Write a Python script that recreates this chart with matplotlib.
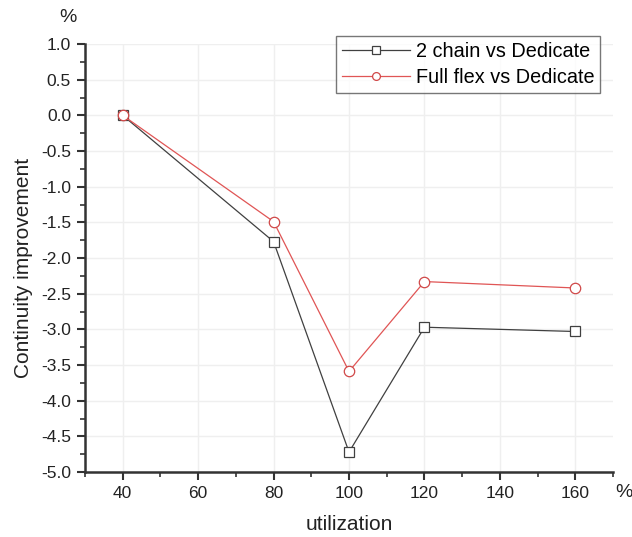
import numpy as np
import matplotlib
matplotlib.use("Agg")
from matplotlib import pyplot as plt
from matplotlib.ticker import MultipleLocator

# utilization levels (%) and continuity improvement (%) vs dedicated
utilization = [40, 80, 100, 120, 160]
two_chain = [0.0, -1.77, -4.72, -2.97, -3.03]
full_flex = [0.0, -1.49, -3.59, -2.33, -2.42]

plt.rcParams['font.family'] = ['Liberation Sans', 'DejaVu Sans']

fig = plt.figure(figsize=(6.32, 5.37), dpi=100)
ax = fig.add_axes([0.1345, 0.121, 0.8355, 0.797])

ax.plot(utilization, two_chain, color='#404040', lw=0.9, marker='s', ms=7,
        mfc='white', mec='#404040', mew=0.9, label='2 chain vs Dedicate', zorder=3)
ax.plot(utilization, full_flex, color='#e05555', lw=0.9, marker='o', ms=7.5,
        mfc='white', mec='#d04848', mew=0.9, label='Full flex vs Dedicate', zorder=3)

ax.set_xlim(30, 170)
ax.set_ylim(-5.0, 1.0)
ax.xaxis.set_major_locator(MultipleLocator(20))
ax.xaxis.set_minor_locator(MultipleLocator(10))
ax.yaxis.set_major_locator(MultipleLocator(0.5))
ax.yaxis.set_minor_locator(MultipleLocator(0.25))
ax.set_xticks([40, 60, 80, 100, 120, 140, 160])
ax.yaxis.set_major_formatter(matplotlib.ticker.FormatStrFormatter('%.1f'))

for s in ['top', 'right']:
    ax.spines[s].set_visible(False)
for s in ['left', 'bottom']:
    ax.spines[s].set_linewidth(1.8)
    ax.spines[s].set_color('#333333')

ax.tick_params(which='major', direction='out', length=6, width=1.5,
               color='#333333', labelsize=12.5, labelcolor='#222222', pad=4)
ax.tick_params(which='minor', direction='out', length=3.5, width=1.2, color='#333333')

ax.grid(True, which='major', color='#efefef', lw=1.0)
ax.set_axisbelow(True)

ax.set_xlabel('utilization', fontsize=15, labelpad=10, color='#222222')
ax.set_ylabel('Continuity improvement', fontsize=15, color='#222222')
ax.yaxis.set_label_coords(-0.099, 0.477)
fig.text(0.108, 0.968, '%', fontsize=14, ha='center', va='center', color='#222222')
fig.text(0.988, 0.083, '%', fontsize=14, ha='center', va='center', color='#222222')

leg = ax.legend(loc='upper right', bbox_to_anchor=(0.9755, 1.0195), fontsize=14.3,
                frameon=True, fancybox=False, borderpad=0.3, handlelength=3.4,
                handletextpad=0.3, labelspacing=0.35, borderaxespad=0,
                markerscale=0.75)
leg.get_frame().set_edgecolor('#555555')
leg.get_frame().set_linewidth(1.0)

fig.savefig('out.png', dpi=100)
